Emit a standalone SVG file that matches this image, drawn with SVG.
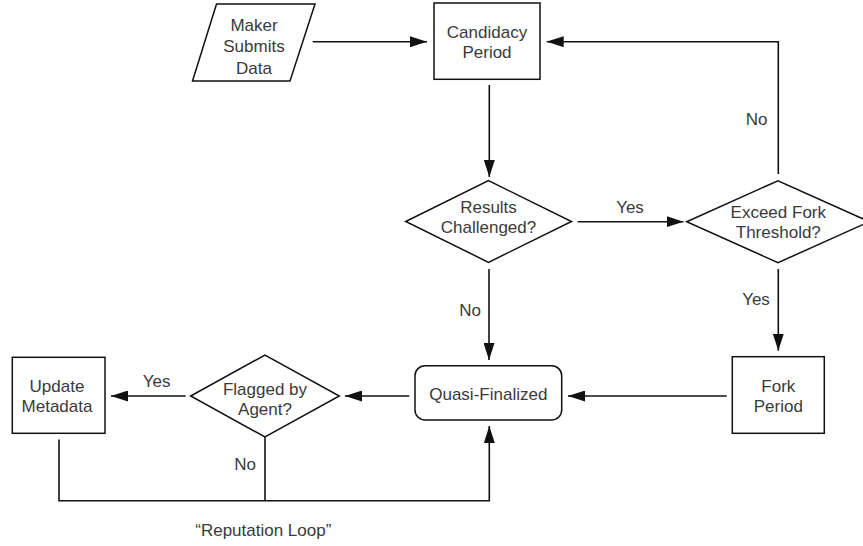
<svg xmlns="http://www.w3.org/2000/svg" width="863" height="546" viewBox="0 0 863 546">
  <style>
    .shape { fill: #ffffff; stroke: #111111; stroke-width: 1.5; }
    .conn { fill: none; stroke: #111111; stroke-width: 1.6; }
    .txt { font-family: "Liberation Sans", Arial, sans-serif; font-size: 17px; fill: #3a3a3a; text-anchor: middle; }
  </style>
  <defs>
    <marker id="arrow" markerUnits="userSpaceOnUse" markerWidth="17" markerHeight="11" refX="17" refY="5.5" orient="auto">
      <path d="M0,0 L17,5.5 L0,11 z" fill="#111111"/>
    </marker>
  </defs>
  <rect width="863" height="546" fill="#ffffff"/>

  <g id="connectors">
    <path class="conn" d="M312.7,41.7 H427" marker-end="url(#arrow)"/>
    <path class="conn" d="M489.3,85 V177" marker-end="url(#arrow)"/>
    <path class="conn" d="M577.7,221.7 H683.5" marker-end="url(#arrow)"/>
    <path class="conn" d="M778.3,174 V41.7 H546.7" marker-end="url(#arrow)"/>
    <path class="conn" d="M778.3,269 V350.7" marker-end="url(#arrow)"/>
    <path class="conn" d="M489,269 V360" marker-end="url(#arrow)"/>
    <path class="conn" d="M726.7,396 H568" marker-end="url(#arrow)"/>
    <path class="conn" d="M409.3,396 H345" marker-end="url(#arrow)"/>
    <path class="conn" d="M185.7,396 H111" marker-end="url(#arrow)"/>
    <path class="conn" d="M59,439.5 V500.7 H489.3 V426" marker-end="url(#arrow)"/>
    <path class="conn" d="M265,437 V500.7"/>
    <text class="txt" x="630" y="212.7">Yes</text>
    <text class="txt" x="756.7" y="125">No</text>
    <text class="txt" x="756" y="305">Yes</text>
    <text class="txt" x="470" y="315.7">No</text>
    <text class="txt" x="156.7" y="386.7">Yes</text>
    <text class="txt" x="245" y="470">No</text>
    <text class="txt" x="263.3" y="535.5">“Reputation Loop”</text>
  </g>

  <g id="maker-submits-data">
    <polygon class="shape" points="216.5,4 315,4 290,81 192.5,81"/>
    <text class="txt" x="254" y="30.5">Maker</text>
    <text class="txt" x="254" y="52">Submits</text>
    <text class="txt" x="254" y="73.5">Data</text>
  </g>

  <g id="candidacy-period">
    <rect class="shape" x="434" y="3" width="106" height="76.3"/>
    <text class="txt" x="487" y="38">Candidacy</text>
    <text class="txt" x="487" y="58">Period</text>
  </g>

  <g id="results-challenged">
    <polygon class="shape" points="405.7,221.5 488.5,180.7 571.5,221.5 488.5,262.3"/>
    <text class="txt" x="488.5" y="213.3">Results</text>
    <text class="txt" x="488.5" y="233.3">Challenged?</text>
  </g>

  <g id="exceed-fork-threshold">
    <polygon class="shape" points="686.7,221.7 778,180.7 869.3,221.7 778,262.7"/>
    <text class="txt" x="778.3" y="218.3">Exceed Fork</text>
    <text class="txt" x="778.3" y="238.3">Threshold?</text>
  </g>

  <g id="fork-period">
    <rect class="shape" x="732.3" y="356.7" width="92" height="76.6"/>
    <text class="txt" x="778.3" y="391.7">Fork</text>
    <text class="txt" x="778.3" y="411.7">Period</text>
  </g>

  <g id="quasi-finalized">
    <rect class="shape" x="415" y="365.7" width="146.7" height="54.3" rx="10" ry="10"/>
    <text class="txt" x="488.3" y="400">Quasi-Finalized</text>
  </g>

  <g id="flagged-by-agent">
    <polygon class="shape" points="190.7,396 265,355 339.3,396 265,437"/>
    <text class="txt" x="265" y="395">Flagged by</text>
    <text class="txt" x="265" y="415">Agent?</text>
  </g>

  <g id="update-metadata">
    <rect class="shape" x="12.3" y="357.3" width="92.7" height="76"/>
    <text class="txt" x="57" y="391.7">Update</text>
    <text class="txt" x="57" y="411.7">Metadata</text>
  </g>
</svg>
